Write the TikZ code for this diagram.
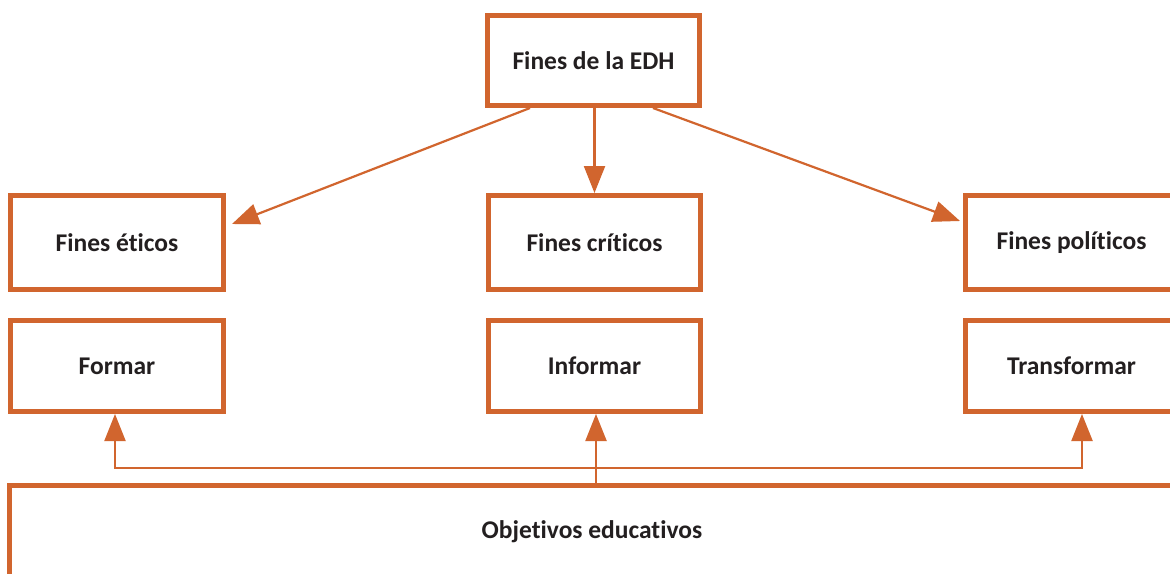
\documentclass[tikz,border=0pt]{standalone}
\usepackage{fontspec}
\setmainfont{Carlito}[RawFeature={-liga;-dlig;-clig}]
\usetikzlibrary{arrows.meta,calc}
\definecolor{edhorange}{RGB}{209,101,46}
\definecolor{edhtext}{RGB}{35,31,32}
\tikzset{
  box/.style={draw=edhorange, line width=5pt, rectangle, fill=white,
    text=edhtext, font=\fontsize{25.5}{30}\selectfont\bfseries, inner sep=0pt},
  arr/.style={draw=edhorange, line width=2.2pt,
    -{Triangle[length=27pt,width=21pt]}},
  conn/.style={draw=edhorange, line width=2.2pt}
}
\begin{document}
\begin{tikzpicture}[x=1pt,y=-1pt]
\useasboundingbox (0,0) rectangle (1170,573);
\clip (0,0) rectangle (1170,573);
\fill[white] (0,0) rectangle (1170,573);
% boxes
\node[box, minimum width=212pt, minimum height=90pt] (edh) at (593.5,60.5) {Fines de la EDH};
\node[box, minimum width=213pt, minimum height=94pt] (eticos) at (117,242.5) {Fines éticos};
\node[box, minimum width=212pt, minimum height=94pt] (criticos) at (594.5,242.5) {Fines críticos};
\node[box, minimum width=212pt, minimum height=94pt] (politicos) at (1071.5,242.5) {Fines políticos};
\node[box, minimum width=213pt, minimum height=91pt] (formar) at (117,366) {Formar};
\node[box, minimum width=212pt, minimum height=91pt] (informar) at (594.5,366) {Informar};
\node[box, minimum width=212pt, minimum height=91pt] (transformar) at (1071.5,366) {Transformar};
\node[box, minimum width=1165pt, minimum height=94pt] (obj) at (592,532) {Objetivos educativos};
% top arrows
\draw[arr] ([xshift=-63.5pt]edh.south) -- ([xshift=6pt,yshift=-31pt]eticos.north east);
\draw[arr] (edh.south -| criticos.north) -- (criticos.north);
\draw[arr] ([xshift=59.5pt]edh.south) -- ([xshift=-3pt,yshift=-28pt]politicos.north west);
% bottom connectors
\coordinate (j) at (596,468);
\draw[arr] (j) -| ([xshift=-2pt]formar.south);
\draw[arr] (j) -| ([xshift=10.5pt]transformar.south);
\draw[arr] (obj.north -| j) -- (informar.south -| j);
\end{tikzpicture}
\end{document}
